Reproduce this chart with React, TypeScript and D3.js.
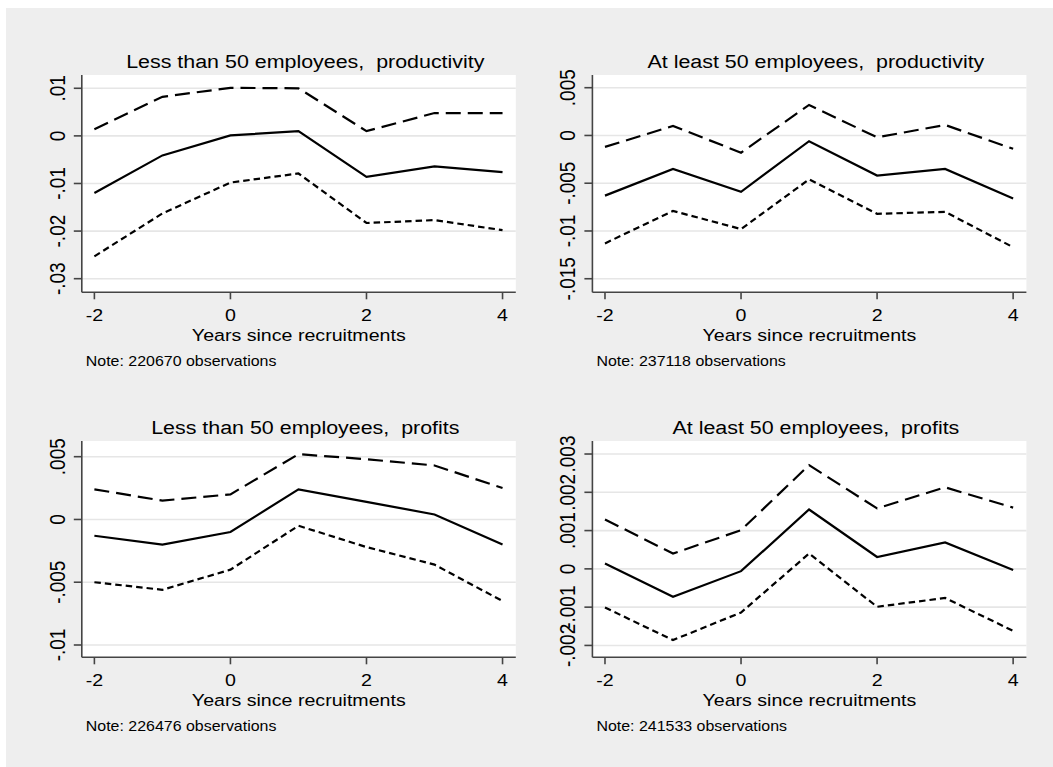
import React from "react";
import * as d3 from "d3";

const years = [-2, -1, 0, 1, 2, 3, 4];
const xTicks = [-2, 0, 2, 4];

// less than 50 employees, productivity
const smallProdEst = [-0.012, -0.0041, 0.0001, 0.001, -0.0086, -0.0064, -0.0076];
const smallProdUpper = [0.0014, 0.0082, 0.0101, 0.01, 0.001, 0.0048, 0.0048];
const smallProdLower = [-0.0253, -0.0163, -0.0098, -0.0079, -0.0183, -0.0177, -0.0198];
const smallProdTicks = [-0.03, -0.02, -0.01, 0, 0.01];

// at least 50 employees, productivity
const largeProdEst = [-0.0063, -0.0035, -0.0059, -0.0006, -0.0042, -0.0035, -0.0066];
const largeProdUpper = [-0.0012, 0.001, -0.0018, 0.0032, -0.0002, 0.0011, -0.0014];
const largeProdLower = [-0.0113, -0.0079, -0.0098, -0.0046, -0.0082, -0.008, -0.0117];
const largeProdTicks = [-0.015, -0.01, -0.005, 0, 0.005];

// less than 50 employees, profits
const smallProfEst = [-0.0013, -0.002, -0.001, 0.0024, 0.0014, 0.0004, -0.002];
const smallProfUpper = [0.0024, 0.0015, 0.002, 0.0052, 0.0048, 0.0043, 0.0025];
const smallProfLower = [-0.005, -0.0056, -0.004, -0.0005, -0.0022, -0.0036, -0.0065];
const smallProfTicks = [-0.01, -0.005, 0, 0.005];

// at least 50 employees, profits
const largeProfEst = [0.00014, -0.00073, -0.00006, 0.00155, 0.00031, 0.00069, -0.00003];
const largeProfUpper = [0.00129, 0.0004, 0.00101, 0.00271, 0.00158, 0.00213, 0.0016];
const largeProfLower = [-0.00101, -0.00186, -0.00114, 0.0004, -0.00099, -0.00076, -0.00162];
const largeProfTicks = [-0.002, -0.001, 0, 0.001, 0.002, 0.003];

const titles = [
  "Less than 50 employees,  productivity",
  "At least 50 employees,  productivity",
  "Less than 50 employees,  profits",
  "At least 50 employees,  profits",
];
const notes = [
  "Note: 220670 observations",
  "Note: 237118 observations",
  "Note: 226476 observations",
  "Note: 241533 observations",
];
const xTitle = "Years since recruitments";

const W = 1053;
const H = 767;
const FONT = "'Liberation Sans', Arial, Helvetica, sans-serif";
const SX = 1.14; // glyphs in the picture are a bit wider than tall

const panels = [
  { left: 81.8, top: 75, bottom: 292.3, yDom: [-0.03286, 0.01279], ticks: smallProdTicks, est: smallProdEst, up: smallProdUpper, lo: smallProdLower },
  { left: 592.4, top: 75, bottom: 292.3, yDom: [-0.01642, 0.00633], ticks: largeProdTicks, est: largeProdEst, up: largeProdUpper, lo: largeProdLower },
  { left: 81.8, top: 441, bottom: 657.3, yDom: [-0.01098, 0.00625], ticks: smallProfTicks, est: smallProfEst, up: smallProfUpper, lo: smallProfLower },
  { left: 592.4, top: 441, bottom: 657.3, yDom: [-0.00231, 0.00334], ticks: largeProfTicks, est: largeProfEst, up: largeProfUpper, lo: largeProfLower },
];
const plotW = 434;

function fmt(v: number) {
  if (v === 0) return "0";
  return String(+v.toFixed(5)).replace(/^(-?)0\./, "$1.");
}

function SText({ x, y, size, anchor = "middle", rotate = false, children }: any) {
  return (
    <text
      transform={`translate(${x},${y}) scale(${SX},1)${rotate ? " rotate(-90)" : ""}`}
      textAnchor={anchor}
      fontSize={size}
      fontFamily={FONT}
      fill="#000"
      style={{ whiteSpace: "pre" }}
    >
      {children}
    </text>
  );
}

function Panel({ p, i }: any) {
  const x = d3.scaleLinear().domain([-2.185, 4.195]).range([p.left, p.left + plotW]);
  const y = d3.scaleLinear().domain(p.yDom).range([p.bottom, p.top]);
  const line = d3
    .line<number>()
    .x((d, j) => x(years[j]))
    .y((d) => y(d));
  const cx = p.left + plotW / 2;

  return (
    <g>
      <rect x={p.left} y={p.top} width={plotW} height={p.bottom - p.top} fill="#fff" />
      {p.ticks.map((t: number) => (
        <line key={"g" + t} x1={p.left} x2={p.left + plotW} y1={y(t)} y2={y(t)} stroke="#e6e6e6" strokeWidth={1.6} />
      ))}
      <path d={line(p.up) || ""} fill="none" stroke="#000" strokeWidth={2.2} strokeDasharray="15,7" />
      <path d={line(p.lo) || ""} fill="none" stroke="#000" strokeWidth={2.2} strokeDasharray="6.5,4" />
      <path d={line(p.est) || ""} fill="none" stroke="#000" strokeWidth={2.2} />
      {/* axes */}
      <line x1={p.left} x2={p.left} y1={p.top} y2={p.bottom} stroke="#444" strokeWidth={1.6} />
      <line x1={p.left} x2={p.left + plotW} y1={p.bottom} y2={p.bottom} stroke="#444" strokeWidth={1.6} />
      {p.ticks.map((t: number) => (
        <g key={"t" + t}>
          <line x1={p.left - 8} x2={p.left} y1={y(t)} y2={y(t)} stroke="#444" strokeWidth={1.6} />
          <SText x={p.left - 17} y={y(t)} size={19} rotate>
            {fmt(t)}
          </SText>
        </g>
      ))}
      {xTicks.map((t) => (
        <g key={"x" + t}>
          <line x1={x(t)} x2={x(t)} y1={p.bottom} y2={p.bottom + 7} stroke="#444" strokeWidth={1.6} />
          <SText x={x(t)} y={p.bottom + 29} size={17.2}>
            {String(t)}
          </SText>
        </g>
      ))}
      <SText x={cx} y={p.bottom + 49} size={17.2}>
        {xTitle}
      </SText>
      <SText x={p.left + 4} y={p.bottom + 74} size={14} anchor="start">
        {notes[i]}
      </SText>
      <SText x={cx + 6.5} y={p.top - 7} size={18.8}>
        {titles[i]}
      </SText>
    </g>
  );
}

export default function App() {
  return (
    <svg width={W} height={H} style={{ position: "absolute", left: 0, top: 0 }}>
      <rect x={0} y={0} width={W} height={H} fill="#fff" />
      <rect x={6} y={8} width={W - 6} height={H - 8} fill="#eeeeee" />
      {panels.map((p, i) => (
        <Panel key={i} p={p} i={i} />
      ))}
    </svg>
  );
}
